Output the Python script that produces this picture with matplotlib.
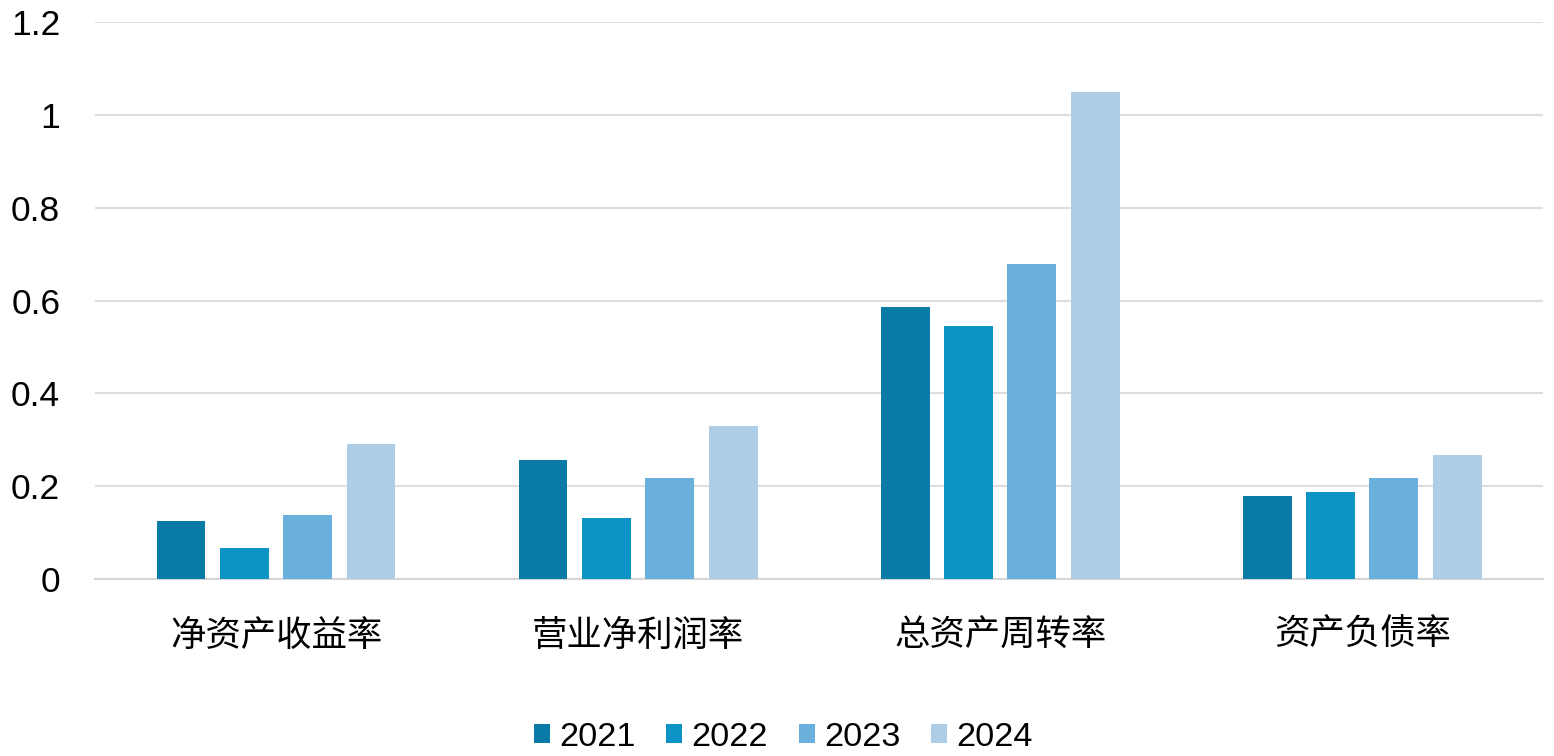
import matplotlib

matplotlib.use("agg")
import matplotlib.pyplot as plt  # noqa: E402
import numpy as np  # noqa: E402

plt.rcParams["font.family"] = ["Liberation Sans", "Noto Sans CJK SC", "DejaVu Sans"]

# financial ratios by year
categories = ["净资产收益率", "营业净利润率", "总资产周转率", "资产负债率"]
years = ["2021", "2022", "2023", "2024"]
v2021 = [0.125, 0.256, 0.586, 0.179]
v2022 = [0.067, 0.131, 0.545, 0.187]
v2023 = [0.139, 0.218, 0.679, 0.218]
v2024 = [0.292, 0.330, 1.049, 0.267]
series = [v2021, v2022, v2023, v2024]
colors = ["#0A7AA6", "#0E93C6", "#6AB0DC", "#AECDE6"]

fig = plt.figure(figsize=(15.54, 7.56), dpi=100)
ax = fig.add_axes([0.0611, 0.234, 0.932, 0.737])

x = np.arange(len(categories))
width = 0.135
pitch = 0.175
for i, (vals, yr, c) in enumerate(zip(series, years, colors)):
    ax.bar(x + (i - 1.5) * pitch, vals, width, color=c, label=yr, zorder=3)

ax.set_xlim(-0.5, len(categories) - 0.5)
ax.set_ylim(0, 1.2)
ax.set_yticks([0, 0.2, 0.4, 0.6, 0.8, 1.0, 1.2])
ax.set_yticklabels(["0", "0.2", "0.4", "0.6", "0.8", "1", "1.2"])
ax.set_xticks(x)
ax.set_xticklabels(categories)
ax.yaxis.grid(True, color="#DDDDDD", lw=1.5, zorder=0)
for s in ["top", "right", "left"]:
    ax.spines[s].set_visible(False)
ax.spines["bottom"].set_color("#D6D6D6")
ax.spines["bottom"].set_linewidth(1.5)
ax.tick_params(axis="y", length=0, pad=25, labelsize=25.5)
ax.tick_params(axis="x", length=0, pad=29, labelsize=25.5)

fig.legend(loc="center", bbox_to_anchor=(0.504, 0.025), ncol=4, frameon=False,
           fontsize=24.7, handlelength=0.47, handleheight=0.47, handletextpad=0.26,
           columnspacing=0.9)

fig.savefig("out.png", dpi=100)
